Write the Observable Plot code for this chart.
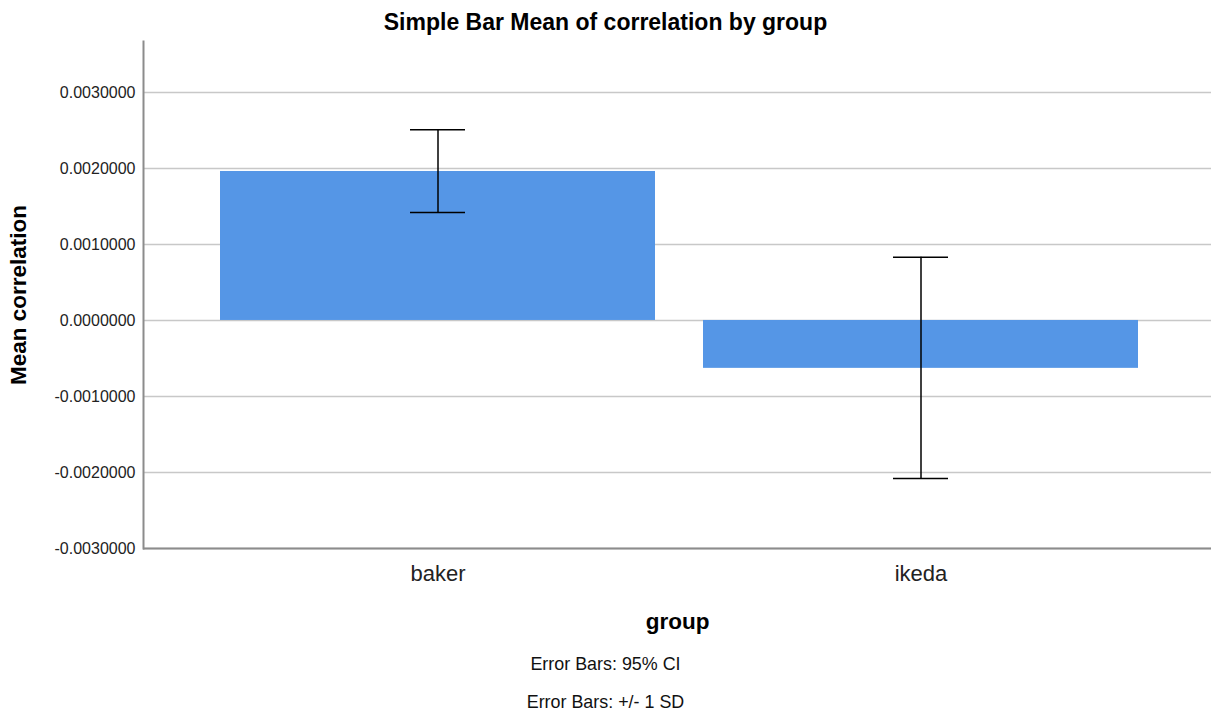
<!DOCTYPE html>
<html>
<head>
<meta charset="utf-8">
<script src="https://cdn.jsdelivr.net/npm/d3@7"></script>
<script src="https://cdn.jsdelivr.net/npm/@observablehq/plot@0.6"></script>
<style>
  html, body { margin: 0; padding: 0; background: #fff; }
  body { width: 1211px; height: 716px; overflow: hidden; font-family: "Liberation Sans", Arial, sans-serif; position: relative; }
  #title { position: absolute; top: 9px; left: 0; width: 1211px; text-align: center; font-weight: bold; font-size: 23px; color: #000; z-index: 2; }
  #chart { position: absolute; top: 0; left: 0; z-index: 1; }
  .cap { position: absolute; left: 0; width: 1211px; text-align: center; font-size: 17.9px; color: #111; z-index: 2; }
</style>
</head>
<body>
<div id="title">Simple Bar Mean of correlation by group</div>
<div id="chart"></div>
<div class="cap" style="top:654px">Error Bars: 95% CI</div>
<div class="cap" style="top:692px">Error Bars: +/- 1 SD</div>
<script>
const groups = ["baker", "ikeda"];
const means = [0.00196, -0.00063];
const errLow = [0.00142, -0.00208];
const errHigh = [0.00251, 0.00083];
const yTicks = [-0.003, -0.002, -0.001, 0, 0.001, 0.002, 0.003];

const data = groups.map((g, i) => ({group: g, mean: means[i], lo: errLow[i], hi: errHigh[i]}));

const chart = Plot.plot({
  width: 1211,
  height: 645,
  marginLeft: 143,
  marginRight: 0,
  marginTop: 41,
  marginBottom: 97,
  style: {fontFamily: "'Liberation Sans', Arial, sans-serif", background: "transparent", color: "#000"},
  x: {domain: groups, paddingInner: 0.1, paddingOuter: 0.155, align: 0.513, label: null},
  y: {domain: [-0.003, 0.00367], label: null},
  marks: [
    Plot.gridY(yTicks, {stroke: "#c8c8c8", strokeOpacity: 1, strokeWidth: 1.6}),
    Plot.barY(data, {x: "group", y1: 0, y2: "mean", fill: "#5596E6"}),
    Plot.ruleX(data, {x: "group", y1: "lo", y2: "hi", stroke: "#000", strokeWidth: 1.5}),
    Plot.tickY(data, {x: "group", y: "lo", stroke: "#000", strokeWidth: 1.5, insetLeft: 190, insetRight: 190}),
    Plot.tickY(data, {x: "group", y: "hi", stroke: "#000", strokeWidth: 1.5, insetLeft: 190, insetRight: 190}),
    Plot.axisY({ticks: yTicks, tickSize: 0, tickPadding: 8, tickFormat: d => d.toFixed(7), fontSize: 16, fill: "#222",
      label: "Mean correlation", labelAnchor: "center", labelArrow: "none", labelOffset: 133}),
    Plot.axisX({tickSize: 0, tickPadding: 17, fontSize: 22, fill: "#222",
      label: "group", labelAnchor: "center", labelArrow: "none", labelOffset: 80}),
    Plot.frame({anchor: "left", stroke: "#8c8c8c", strokeWidth: 2}),
    Plot.ruleY([-0.003], {stroke: "#8c8c8c", strokeWidth: 2})
  ]
});
document.getElementById("chart").appendChild(chart);
chart.querySelectorAll('g[aria-label="y-axis label"] text, g[aria-label="x-axis label"] text').forEach(t => {
  t.setAttribute("font-weight", "bold");
  t.setAttribute("font-size", "22.5");
  t.setAttribute("fill", "#000");
});
</script>
</body>
</html>
